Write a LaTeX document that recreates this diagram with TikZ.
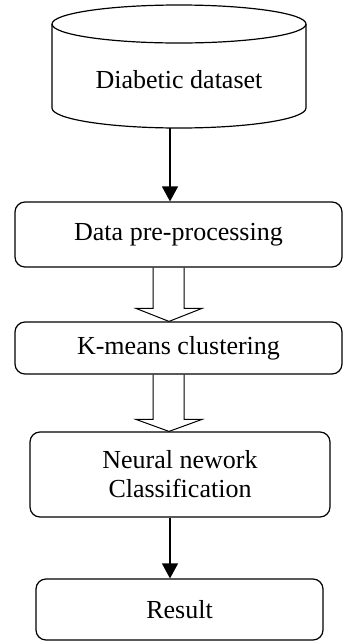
\documentclass[tikz,border=0pt]{standalone}
\usepackage{fontspec}
\setmainfont{Liberation Serif}
\usetikzlibrary{arrows.meta,calc}
\begin{document}
\begin{tikzpicture}[x=1pt,y=-1pt,
  box/.style={draw,line width=1.2pt,rounded corners=10pt,inner sep=0pt,align=center,
    font=\fontsize{26}{29}\selectfont},
  txt/.style={font=\fontsize{26}{29}\selectfont,inner sep=0pt},
  solidarrow/.style={line width=1.4pt,-{Triangle[width=16pt,length=15pt]}},
  hollow/.style={line width=1pt,line join=miter}]
\useasboundingbox (0,0) rectangle (343,641);
% cylinder
\draw[line width=1.2pt] (52,24) -- (52,108) arc[start angle=180,end angle=360,x radius=127,y radius=-20] -- (306,24);
\draw[line width=1.2pt] (179,24) ellipse[x radius=127,y radius=19];
\node[txt] (db) at (179,80) {Diabetic dataset};
\coordinate (dbbot) at (170,128);
% boxes
\node[box,minimum width=327pt,minimum height=65pt] (p1) at (178.5,234.5) {Data pre-processing};
\node[box,minimum width=327pt,minimum height=52pt] (p2) at (178.5,348) {K-means clustering};
\node[box,minimum width=300pt,minimum height=85pt] (p3) at (180,474.5) {Neural nework\\Classification};
\node[box,minimum width=287pt,minimum height=61pt] (p4) at (179.5,609.5) {Result};
% solid arrows
\draw[solidarrow] (dbbot) -- (dbbot |- p1.north);
\coordinate (a3) at (170,0);
\draw[solidarrow] (a3 |- p3.south) -- (a3 |- p4.north);
% hollow block arrows
\coordinate (ax) at (169,0);
\coordinate (b1) at (ax |- p1.south);
\coordinate (t1) at (ax |- p2.north);
\draw[hollow] ($(b1)+(-16,0)$) -- ($(t1)+(-16,-13)$) -- ($(t1)+(-33,-13)$) -- (t1)
  -- ($(t1)+(33,-13)$) -- ($(t1)+(15,-13)$) -- ($(b1)+(15,0)$);
\coordinate (b2) at (ax |- p2.south);
\coordinate (t2) at (ax |- p3.north);
\draw[hollow] ($(b2)+(-16,0)$) -- ($(t2)+(-16,-12)$) -- ($(t2)+(-33,-12)$) -- (t2)
  -- ($(t2)+(33,-12)$) -- ($(t2)+(15,-12)$) -- ($(b2)+(15,0)$);
\end{tikzpicture}
\end{document}
